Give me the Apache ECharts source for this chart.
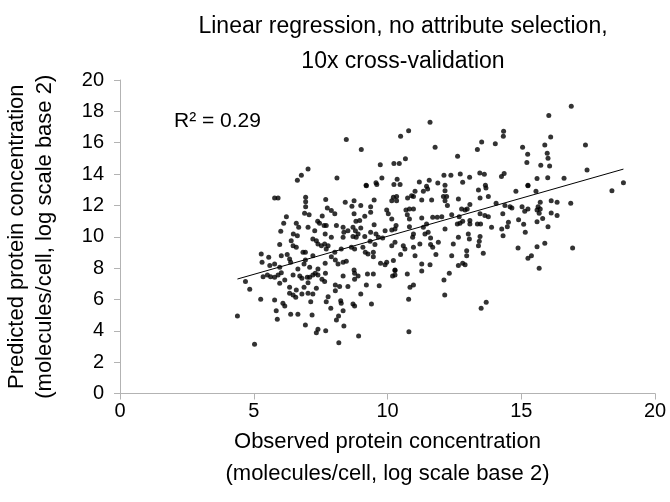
<!DOCTYPE html>
<html>
<head>
<meta charset="utf-8">
<script src="https://cdn.jsdelivr.net/npm/echarts@6/dist/echarts.min.js"></script>
<style>
  html, body { margin: 0; background: #fff; }
  #chart { width: 670px; height: 502px; }
</style>
</head>
<body>
<div id="chart"></div>
<script>
// observed (x) / predicted (y) protein concentration, log2 molecules/cell
const observed = [
  8.46, 9.02, 7.03, 6.78, 6.63, 8.11, 9.20,
  11.59, 10.79, 10.49, 14.34, 14.33, 13.52, 13.36, 14.03, 11.78, 12.62, 10.67, 9.73, 10.24, 10.44,
  9.79, 9.57, 10.36, 10.24, 10.47, 11.19, 11.56, 11.88, 12.11, 12.37, 12.15, 12.72, 13.07, 12.81,
  13.45, 13.62, 14.26, 14.36, 13.66, 11.46,
  16.87, 16.03, 16.10, 15.88, 15.05, 17.40, 15.97, 15.24, 16.00, 15.21, 15.73, 16.06, 17.46, 15.59,
  15.99, 16.60, 15.25, 18.82,
  9.21, 5.78, 5.91, 6.94, 6.94, 7.69, 8.42, 8.75, 8.67, 9.00, 6.94, 7.75, 7.90, 8.03, 6.90, 7.07,
  6.22, 8.75, 9.15, 7.56, 9.37, 7.39, 7.46, 7.63, 7.71, 8.09, 8.82, 8.96, 6.12, 6.59, 6.68, 7.03,
  6.01, 6.48, 6.63, 7.28, 7.67, 7.90, 8.34, 8.37, 8.52, 8.71, 8.80, 9.00, 8.34, 8.71, 8.83, 9.15,
  8.90, 7.21, 7.34, 7.40, 7.53, 7.65, 7.78, 6.40, 6.47, 6.59, 5.97, 6.84, 6.93, 7.21, 7.71, 8.03,
  8.27, 8.65, 8.77, 9.08, 9.17, 9.27, 5.28, 5.56, 5.78, 6.03, 6.25, 6.34, 6.38, 5.31, 5.60, 5.97,
  6.93, 6.88, 7.09, 7.90, 8.05, 8.15, 8.34, 8.46, 7.67, 6.65, 7.40, 8.75,
  9.60, 11.50, 11.03, 11.34, 12.15, 13.40, 13.68, 9.50, 10.22, 10.34, 10.16, 10.34, 10.75, 10.90,
  10.97, 11.28, 11.65, 12.09, 12.21, 12.15, 12.65, 13.46, 13.77, 12.24, 13.08, 14.06, 9.37, 9.97,
  10.03, 10.69, 10.82, 10.97, 10.74, 10.82, 12.77, 12.90, 12.98, 12.40, 12.68, 13.46, 13.64, 13.77,
  14.31, 14.39, 14.58, 10.16, 11.28, 11.69, 11.86, 12.03, 9.50, 9.91, 10.16, 10.28, 10.32, 10.82,
  11.34, 11.46, 11.52, 12.15, 12.61, 12.71, 12.81, 13.08, 13.08, 13.36, 13.48, 13.89, 14.27, 14.48,
  14.52, 14.32, 9.37, 9.57, 9.66, 9.82, 10.28, 10.97, 10.94, 11.40, 11.61, 11.61, 11.90, 12.65,
  13.02, 13.06, 13.46, 13.43, 9.35, 9.53, 10.16, 10.59, 10.65, 10.97, 11.21, 11.69, 12.46, 12.96,
  13.40, 9.47, 9.47, 10.49, 11.03, 11.81, 12.40, 12.96, 13.58, 10.22, 9.74, 9.91, 9.97, 11.28,
  11.59, 12.65, 12.81, 12.90, 10.28,
  14.80, 15.25, 15.55, 18.39, 15.71, 16.12, 16.34, 16.85, 15.03, 14.65, 15.25, 15.13, 15.63, 15.59,
  15.71, 15.67, 16.12, 16.34, 14.90, 15.80, 15.59, 15.09, 16.00, 15.15, 14.88, 15.59, 15.88, 16.92,
  15.38, 15.25, 15.67,
  4.69, 4.85, 4.39, 5.03, 5.26, 5.35, 5.51, 5.63, 5.78, 5.91, 6.03, 5.97, 6.16, 6.47, 6.72, 6.80,
  7.00, 7.09, 7.03, 6.88, 7.21, 7.30, 7.40, 7.68, 7.55, 7.65, 6.34, 6.59, 6.34, 6.47, 6.57, 6.80,
  7.03, 7.21, 7.34, 7.78, 8.05, 8.21, 8.05, 8.52, 8.34, 8.77, 8.90, 8.77, 9.25, 9.21, 9.00, 7.71,
  7.13, 7.88, 8.25, 8.27, 8.34, 8.71, 8.77, 9.40, 5.78, 6.09, 6.16, 5.84, 5.88, 6.38, 6.65, 7.18,
  6.93, 7.40, 7.34, 7.69, 8.09, 8.17, 8.37, 8.92, 8.18,
  9.47, 10.19, 10.28, 10.28, 10.74, 11.28, 12.31, 12.11, 9.69, 10.84, 10.97, 12.14, 10.79, 13.69,
  13.50, 10.80
];
const predicted = [
  16.20, 15.56, 14.33, 13.92, 13.61, 13.75, 13.29,
  17.31, 16.77, 16.41, 16.73, 16.41, 16.05, 15.56, 15.94, 15.71, 15.14, 14.98, 14.60, 14.67, 14.67,
  13.75, 13.45, 13.67, 13.33, 13.33, 13.50, 13.60, 13.43, 13.92, 13.92, 13.29, 14.01, 13.80, 13.48,
  14.07, 13.99, 13.84, 14.03, 13.29, 13.22,
  18.33, 17.73, 16.37, 15.86, 15.71, 15.86, 15.33, 15.26, 15.01, 14.73, 14.56, 14.52, 14.26, 13.71,
  13.77, 13.73, 13.29, 13.45,
  13.26, 12.48, 12.48, 12.52, 12.24, 12.37, 12.20, 12.30, 11.95, 11.99, 11.92, 11.84, 11.67, 11.46,
  11.50, 11.41, 11.28, 11.46, 11.31, 11.33, 11.56, 10.99, 10.86, 10.71, 10.71, 10.71, 10.99, 11.03,
  10.86, 10.86, 10.61, 10.61, 10.35, 10.18, 10.07, 10.39, 10.18, 9.97, 10.61, 10.29, 10.39, 10.61,
  10.39, 10.56, 9.97, 10.01, 9.97, 10.01, 10.18, 9.86, 9.75, 9.54, 9.43, 9.54, 9.43, 9.75, 9.43,
  9.33, 9.50, 9.01, 9.01, 8.79, 9.22, 9.01, 9.22, 9.33, 9.22, 9.33, 9.01, 8.90, 8.90, 8.69, 8.26,
  8.79, 8.86, 8.58, 8.37, 8.37, 8.16, 8.05, 8.52, 8.26, 8.05, 8.73, 8.52, 8.26, 8.37, 8.44, 8.31,
  7.95, 7.95, 7.88,
  13.33, 13.05, 12.90, 12.90, 12.94, 12.99, 13.11, 12.35, 12.52, 12.56, 12.30, 12.30, 12.48, 12.62,
  12.56, 12.35, 12.35, 12.56, 12.56, 12.30, 12.41, 12.48, 12.56, 11.99, 12.05, 12.14, 11.92, 11.71,
  11.46, 11.71, 11.77, 11.77, 11.41, 11.14, 11.77, 11.71, 11.77, 11.41, 11.28, 11.46, 11.35, 11.28,
  11.46, 11.99, 11.92, 11.14, 11.20, 11.24, 11.24, 11.28, 10.77, 10.39, 10.43, 10.50, 10.71, 10.64,
  10.61, 10.82, 10.29, 10.50, 10.82, 10.86, 10.99, 11.03, 10.82, 10.82, 10.82, 10.61, 10.50, 10.64,
  10.92, 10.07, 10.29, 10.18, 9.97, 9.92, 9.65, 10.18, 9.97, 10.18, 9.92, 9.50, 9.65, 9.97,
  10.18, 9.86, 10.01, 9.71, 9.71, 9.50, 9.43, 9.43, 9.22, 9.33, 9.54, 9.33, 9.54, 9.11,
  9.43, 9.01, 8.73, 8.86, 8.79, 8.86, 8.79, 8.79, 8.94, 8.48, 8.31, 8.22, 8.37, 8.26,
  8.22, 8.16, 8.31, 8.22, 7.88,
  12.90, 13.26, 12.90, 12.94, 12.20, 12.30, 12.20, 12.14, 11.92, 11.84, 11.77, 11.63, 11.92, 11.71,
  11.77, 11.50, 11.52, 11.35, 11.09, 11.16, 10.96, 10.80, 10.63, 10.29, 9.29, 9.37, 9.59, 9.29,
  8.79, 8.63, 7.99,
  7.14, 6.65, 4.95, 3.14, 6.01, 7.45, 7.56, 7.45, 7.42, 7.56, 7.71, 7.03, 7.24, 7.56, 7.50, 7.35,
  7.42, 7.42, 7.07, 6.78, 7.56, 7.67, 7.56, 7.67, 7.29, 7.14, 6.78, 6.60, 6.39, 6.29, 6.14, 6.35,
  6.39, 6.35, 6.71, 6.18, 6.92, 6.82, 6.56, 6.82, 7.50, 7.67, 7.50, 7.29, 7.63, 6.92, 6.35, 5.86,
  5.86, 5.44, 5.92, 5.76, 5.28, 5.71, 5.58, 5.71, 5.97, 5.76, 5.58, 5.28, 4.73, 5.05, 5.05, 5.01,
  4.37, 4.10, 3.88, 4.01, 4.69, 4.95, 4.31, 3.67, 3.24,
  7.63, 7.50, 7.56, 7.84, 7.63, 7.82, 7.67, 7.24, 6.88, 6.78, 6.92, 6.29, 6.01, 5.82,
  5.44, 3.94
];
const rSquaredLabel = 'R² = 0.29';
const axisMin = 0;
const axisMax = 20;
const xStep = 5;
const yStep = 2;

const points = observed.map((x, i) => [x, predicted[i]]);

// least squares trendline over the observed range (same as Excel's linear trendline)
function fitLine(xs, ys) {
  const n = xs.length;
  const mx = xs.reduce((a, b) => a + b, 0) / n;
  const my = ys.reduce((a, b) => a + b, 0) / n;
  let sxy = 0, sxx = 0;
  for (let i = 0; i < n; i++) {
    sxy += (xs[i] - mx) * (ys[i] - my);
    sxx += (xs[i] - mx) * (xs[i] - mx);
  }
  const slope = sxy / sxx;
  return { slope: slope, intercept: my - slope * mx };
}
const fit = fitLine(observed, predicted);
const xLo = Math.min(...observed);
const xHi = Math.max(...observed);
const trend = [
  [xLo, fit.intercept + fit.slope * xLo],
  [xHi, fit.intercept + fit.slope * xHi],
];

const chart = echarts.init(document.getElementById('chart'));
const font = '"Liberation Sans", Arial, sans-serif';

chart.setOption({
  animation: false,
  backgroundColor: '#fff',
  textStyle: { fontFamily: font },
  title: [
    {
      text: 'Linear regression, no attribute selection,\n10x cross-validation',
      left: 398,
      textAlign: 'center',
      top: 4,
      textStyle: { fontFamily: font, fontSize: 23, fontWeight: 'normal', color: '#000', lineHeight: 35 },
    },
    {
      text: rSquaredLabel,
      left: 169,
      top: 106,
      textStyle: { fontFamily: font, fontSize: 21, fontWeight: 'normal', color: '#000' },
    },
  ],
  grid: { left: 120, right: 15, top: 80, bottom: 108.5, outerBoundsMode: 'none' },
  xAxis: {
    type: 'value',
    min: axisMin,
    max: axisMax,
    interval: xStep,
    name: 'Observed protein concentration\n(molecules/cell, log scale base 2)',
    nameLocation: 'middle',
    nameGap: 28,
    nameTextStyle: { fontFamily: font, fontSize: 22, color: '#000', lineHeight: 32 },
    axisLine: { show: true, lineStyle: { color: '#b3b3b3', width: 1 } },
    axisTick: { show: true, length: 6, lineStyle: { color: '#b3b3b3' } },
    axisLabel: { fontFamily: font, fontSize: 20, color: '#000', margin: 8 },
    splitLine: { show: false },
  },
  yAxis: {
    type: 'value',
    min: axisMin,
    max: axisMax,
    interval: yStep,
    name: 'Predicted protein concentration\n(molecules/cell, log scale base 2)',
    nameLocation: 'middle',
    nameGap: 61,
    nameTextStyle: { fontFamily: font, fontSize: 22, color: '#000', lineHeight: 28 },
    axisLine: { show: true, lineStyle: { color: '#b3b3b3', width: 1 } },
    axisTick: { show: true, length: 6, lineStyle: { color: '#b3b3b3' } },
    axisLabel: { fontFamily: font, fontSize: 20, color: '#000', margin: 16 },
    splitLine: { show: false },
  },
  series: [
    {
      name: 'points',
      type: 'scatter',
      symbol: 'circle',
      symbolSize: 5,
      itemStyle: { color: '#000' },
      data: points,
    },
    {
      name: 'trend',
      type: 'line',
      symbol: 'none',
      lineStyle: { color: '#000', width: 1 },
      data: trend,
    },
  ],
});
</script>
</body>
</html>
